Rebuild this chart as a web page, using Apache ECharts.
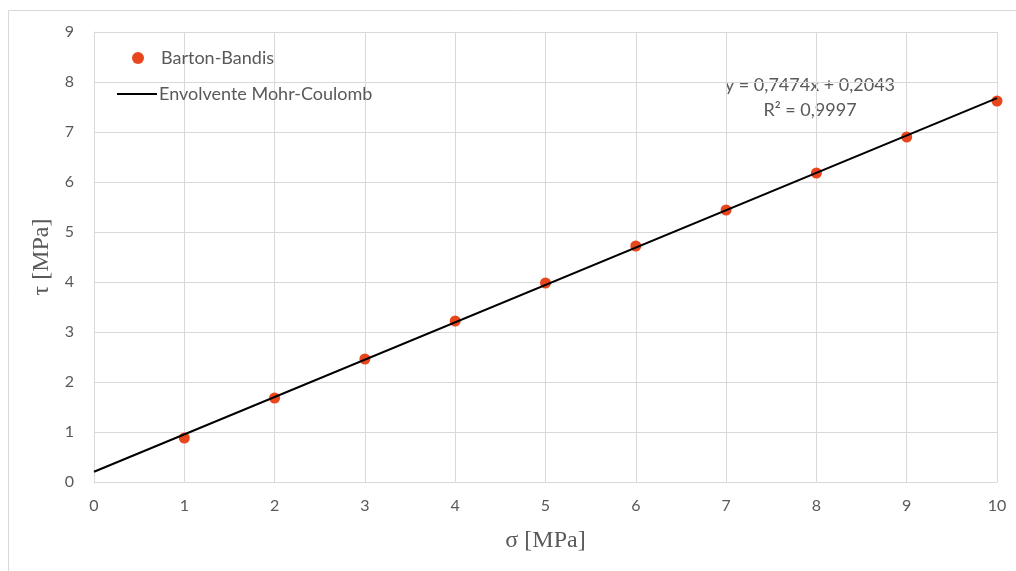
<!DOCTYPE html>
<html>
<head>
<meta charset="utf-8">
<script src="https://cdn.jsdelivr.net/npm/echarts@6/dist/echarts.min.js"></script>
<style>
html,body{margin:0;padding:0;background:#fff;}
#chart{width:1016px;height:571px;}
</style>
</head>
<body>
<div id="chart"></div>
<script>
var sigma = [1, 2, 3, 4, 5, 6, 7, 8, 9, 10];
var tau = [0.88, 1.68, 2.46, 3.22, 3.98, 4.72, 5.44, 6.18, 6.90, 7.62];
var trendX = [0, 10];
var trendY = [0.2043, 7.6783];
var xTicks = [0, 1, 2, 3, 4, 5, 6, 7, 8, 9, 10];
var yTicks = [0, 1, 2, 3, 4, 5, 6, 7, 8, 9];
var eqText = 'y = 0,7474x + 0,2043';
var r2Text = 'R² = 0,9997';

var chart = echarts.init(document.getElementById('chart'));
var gridColor = '#d9d9d9';
var textColor = '#595959';
var font = 'Lato, Open Sans, sans-serif';
var serif = 'Liberation Serif, DejaVu Serif, serif';

chart.setOption({
  animation: false,
  backgroundColor: '#fff',
  grid: {left: 94, right: 19, top: 32, bottom: 89, containLabel: false},
  legend: [
    {
      orient: 'vertical',
      left: 127,
      top: 44,
      itemWidth: 12,
      itemHeight: 12,
      textStyle: {color: textColor, fontSize: 18, fontFamily: font, padding: [0, 0, 0, 12]},
      data: [{name: 'Barton-Bandis', icon: 'circle'}]
    },
    {
      orient: 'vertical',
      left: 112,
      top: 80,
      itemWidth: 40,
      itemHeight: 2,
      textStyle: {color: textColor, fontSize: 18, fontFamily: font, padding: [0, 0, 0, -3]},
      data: [{name: 'Envolvente Mohr-Coulomb', icon: 'rect'}]
    }
  ],
  xAxis: {
    type: 'value', min: xTicks[0], max: xTicks[xTicks.length - 1], interval: 1,
    name: 'σ [MPa]', nameLocation: 'middle', nameGap: 47,
    nameTextStyle: {color: textColor, fontSize: 24, fontFamily: serif},
    axisLine: {show: true, lineStyle: {color: gridColor, width: 1}},
    axisTick: {show: false},
    axisLabel: {color: textColor, fontSize: 16, fontFamily: font, margin: 16},
    splitLine: {show: true, lineStyle: {color: gridColor, width: 1}}
  },
  yAxis: {
    type: 'value', min: yTicks[0], max: yTicks[yTicks.length - 1], interval: 1,
    name: 'τ [MPa]', nameLocation: 'middle', nameGap: 34,
    nameTextStyle: {color: textColor, fontSize: 24, fontFamily: serif},
    axisLine: {show: true, lineStyle: {color: gridColor, width: 1}},
    axisTick: {show: false},
    axisLabel: {color: textColor, fontSize: 16, fontFamily: font, margin: 20},
    splitLine: {show: true, lineStyle: {color: gridColor, width: 1}}
  },
  series: [
    {
      name: 'Barton-Bandis',
      type: 'scatter',
      symbol: 'circle',
      symbolSize: 11,
      itemStyle: {color: '#E8461C', opacity: 1},
      data: sigma.map(function (s, i) { return [s, tau[i]]; }),
      z: 3
    },
    {
      name: 'Envolvente Mohr-Coulomb',
      type: 'line',
      symbol: 'none',
      showSymbol: false,
      lineStyle: {color: '#000', width: 2},
      itemStyle: {color: '#000'},
      data: trendX.map(function (s, i) { return [s, trendY[i]]; }),
      z: 4
    }
  ],
  graphic: [
    {type: 'line', shape: {x1: 8.5, y1: 10.5, x2: 1016, y2: 10.5}, style: {stroke: gridColor, lineWidth: 1}, silent: true},
    {type: 'line', shape: {x1: 8.5, y1: 10.5, x2: 8.5, y2: 571}, style: {stroke: gridColor, lineWidth: 1}, silent: true},
    {type: 'text', x: 810, y: 85, style: {text: eqText, fill: textColor, fontSize: 18, fontFamily: font, textAlign: 'center', textVerticalAlign: 'middle'}},
    {type: 'text', x: 810, y: 110, style: {text: r2Text, fill: textColor, fontSize: 18, fontFamily: font, textAlign: 'center', textVerticalAlign: 'middle'}}
  ]
});
</script>
</body>
</html>
